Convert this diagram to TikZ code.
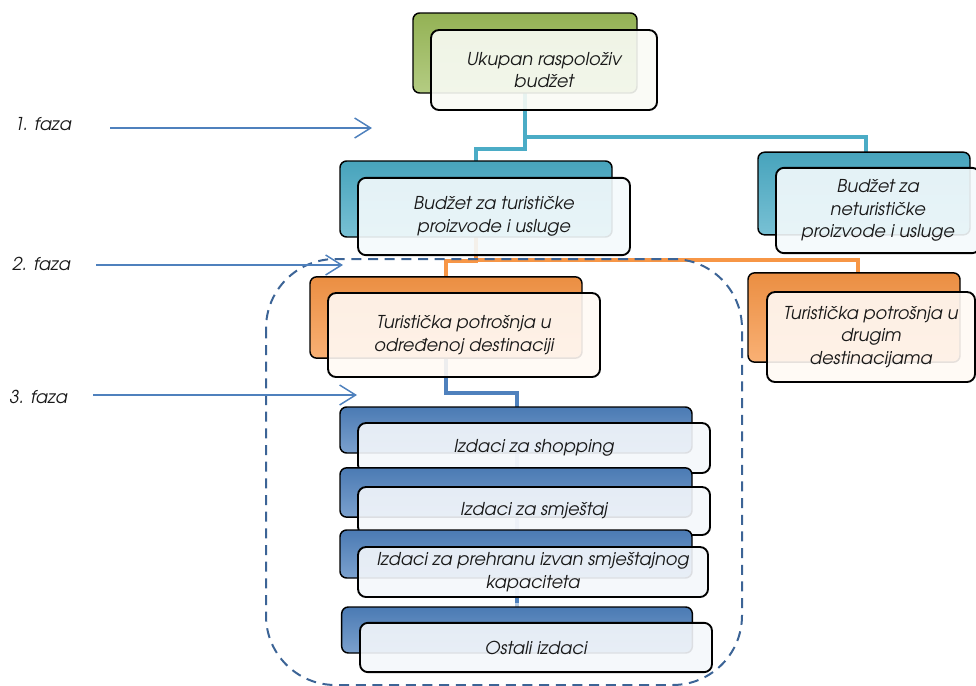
\documentclass[tikz,border=0pt]{standalone}
\usepackage{fontspec}
\setmainfont{texgyreadventor}[Extension=.otf, UprightFont=*-regular, ItalicFont=*-italic, BoldFont=*-bold, BoldItalicFont=*-bolditalic]
\usetikzlibrary{arrows.meta}

\definecolor{grnB}{HTML}{9BBB59}
\definecolor{tealB}{HTML}{4BACC6}
\definecolor{orgB}{HTML}{F79646}
\definecolor{bluB}{HTML}{4F81BD}
\definecolor{dashC}{HTML}{3C6496}
\definecolor{arrC}{HTML}{4F81BD}

\tikzset{
  backbox/.style={draw=black, line width=1.1pt, rounded corners=5pt, top color=#1!95!black, bottom color=#1!75!white, inner sep=0pt},
  frontbox/.style={draw=black, line width=1.4pt, rounded corners=6pt, fill=#1!6!white, fill opacity=0.9, text opacity=1, align=center, text=black!90, font=\fontsize{13.3}{17}\selectfont\itshape, inner sep=0pt},
  conn/.style={draw=#1, line width=3pt},
  fazalabel/.style={anchor=west, text=black!90, font=\fontsize{13.3}{17}\selectfont\itshape, inner sep=0pt},
  fazaarrow/.style={draw=arrC, line width=1.1pt, -{Straight Barb[length=12pt,width=15pt]}},
}

\begin{document}
\begin{tikzpicture}[x=0.75pt,y=0.75pt,yscale=-1,xscale=1]
\useasboundingbox (0,0) rectangle (976,686);

% connectors (behind the boxes)
\coordinate (c1) at (525,149);
\coordinate (c2) at (525,137);
\coordinate (c3) at (476,261);
\coordinate (c4) at (476,260);
\coordinate (c5) at (446,393);
\coordinate (nUkupan) at (525,93);
\coordinate (nTur) at (476,161);
\coordinate (nNetur) at (866,152);
\coordinate (sTur) at (476,237);
\coordinate (nOdr) at (446,277);
\coordinate (nDrug) at (858,273);
\coordinate (sOdr) at (446,358);
\coordinate (nIzd) at (517,407);
\coordinate (eIzd) at (517,607);
\draw [conn=tealB] (nUkupan) -- (c1) -| (nTur);
\draw [conn=tealB] (c2) -| (nNetur);
\draw [conn=orgB] (sTur) -- (c3) -| (nOdr);
\draw [conn=orgB] (c4) -| (nDrug);
\draw [conn=bluB] (sOdr) -- (c5) -| (nIzd);
\draw [conn=bluB!40!white] (nIzd) -- (eIzd);
\draw [conn=bluB] (517,597) -- (517,603);

% Ukupan raspolozivi budzet
\node [backbox=grnB, minimum width=168pt, minimum height=60pt] (ukupanB) at (525,53) {};
\node [frontbox=grnB, minimum width=169.5pt, minimum height=60pt] (ukupanF) at (544,70) {Ukupan raspoloživ\\budžet};

% Budzet za turisticke
\node [backbox=tealB, minimum width=204pt, minimum height=57pt] (turB) at (476,199) {};
\node [frontbox=tealB, minimum width=204pt, minimum height=58pt] (turF) at (494,216.5) {Budžet za turističke\\proizvode i usluge};

% Budzet za neturisticke
\node [backbox=tealB, minimum width=159pt, minimum height=62pt] (neturB) at (864,193.5) {};
\node [frontbox=tealB, minimum width=153pt, minimum height=64pt] (neturF) at (878,210.5) {Budžet za\\neturističke\\proizvode i usluge};

% Turisticka potrosnja u odredjenoj destinaciji
\node [backbox=orgB, minimum width=204pt, minimum height=61pt] (odrB) at (446,317.5) {};
\node [frontbox=orgB, minimum width=204pt, minimum height=63pt] (odrF) at (464,335) {Turistička potrošnja u\\određenoj destinaciji};

% Turisticka potrosnja u drugim destinacijama
\node [backbox=orgB, minimum width=159pt, minimum height=67pt] (drugB) at (854,317.5) {};
\node [frontbox=orgB, minimum width=156pt, minimum height=67.5pt] (drugF) at (871,337) {Turistička potrošnja u\\drugim\\destinacijama};

% Izdaci
\node [backbox=bluB, minimum width=264pt, minimum height=34.5pt] (shopB) at (516,430) {};
\node [frontbox=bluB, minimum width=264pt, minimum height=37.5pt] (shopF) at (534,448) {Izdaci za shopping};
\node [backbox=bluB, minimum width=264pt, minimum height=37pt] (smjB) at (516,492.5) {};
\node [frontbox=bluB, minimum width=264pt, minimum height=36pt] (smjF) at (534,511) {Izdaci za smještaj};
\node [backbox=bluB, minimum width=264pt, minimum height=36pt] (prehB) at (516,554) {};
\node [frontbox=bluB, minimum width=262.5pt, minimum height=37.5pt] (prehF) at (533,572) {Izdaci za prehranu izvan smještajnog\\kapaciteta};
\node [backbox=bluB, minimum width=263pt, minimum height=34.5pt] (ostB) at (517,630) {};
\node [frontbox=bluB, minimum width=264pt, minimum height=37pt] (ostF) at (536,647.5) {Ostali izdaci};

% dashed frame
\draw [dashC, line width=1.5pt, dash pattern=on 7.5pt off 5pt, rounded corners=52pt] (266,259) rectangle (742,685);

% faze
\node [fazalabel] (faza1) at (14,124) {1. faza};
\node [fazalabel] (faza2) at (12,264) {2. faza};
\node [fazalabel] (faza3) at (9,397) {3. faza};
\coordinate (f1s) at (110,128);
\coordinate (f1e) at (372,128);
\coordinate (f2s) at (96,265);
\coordinate (f2e) at (343,265);
\coordinate (f3s) at (93,395);
\coordinate (f3e) at (357,395);
\draw [fazaarrow] (f1s) -- (f1e);
\draw [fazaarrow] (f2s) -- (f2e);
\draw [fazaarrow] (f3s) -- (f3e);

\end{tikzpicture}
\end{document}
